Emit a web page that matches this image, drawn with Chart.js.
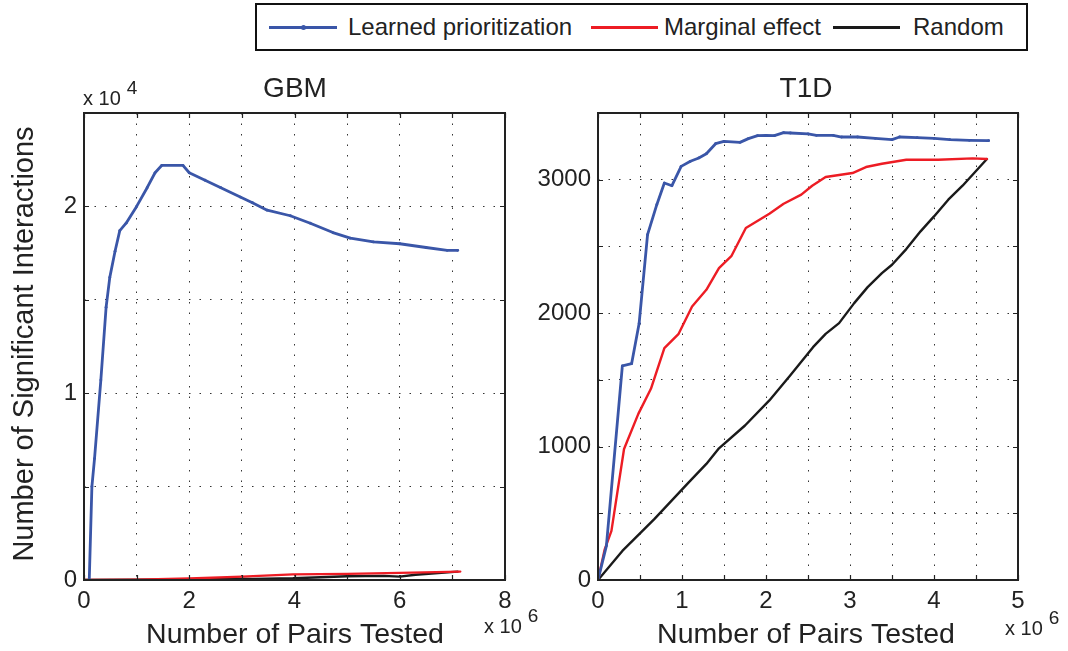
<!DOCTYPE html>
<html>
<head>
<meta charset="utf-8">
<script src="https://cdn.jsdelivr.net/npm/chart.js@4"></script>
<style>
  html, body { margin: 0; padding: 0; background: #fff; }
  #wrap { position: relative; width: 1068px; height: 651px; overflow: hidden; font-family: "Liberation Sans", Arial, Helvetica, sans-serif; color: #222; }
  canvas { position: absolute; top: 0; }
  #gbm { left: 0; }
  #t1d { left: 530px; }
  #legend { position: absolute; left: 255px; top: 3px; width: 773px; height: 48px; box-sizing: border-box; border: 2px solid #111; background: #fff; }
  #legend .ln { position: absolute; top: 21px; height: 2.5px; }
  #legend .tx { position: absolute; top: 8px; font-size: 24px; line-height: 27px; white-space: nowrap; }
  #legend .dot { position: absolute; top: 20px; width: 5px; height: 5px; border-radius: 50%; background: #3a56a8; }
</style>
</head>
<body>
<div id="wrap">
  <canvas id="gbm" width="548" height="651"></canvas>
  <canvas id="t1d" width="538" height="651"></canvas>
  <div id="legend">
    <div class="ln" style="left:12px;width:68px;background:#3a56a8;height:3px;top:21px"></div>
    <div class="dot" style="left:44px"></div>
    <div class="tx" style="left:91px">Learned prioritization</div>
    <div class="ln" style="left:334px;width:67px;background:#ed1c24"></div>
    <div class="tx" style="left:407px">Marginal effect</div>
    <div class="ln" style="left:576px;width:67px;background:#1a1a1a"></div>
    <div class="tx" style="left:656px">Random</div>
  </div>
</div>
<script>
// GBM panel: x in 10^6 pairs, y in 10^4 interactions
const gbmLearnedX = [0.1, 0.15, 0.2, 0.32, 0.42, 0.49, 0.59, 0.68, 0.8, 1.0, 1.2, 1.35, 1.48, 1.88, 2.0, 2.3, 2.6, 2.97, 3.2, 3.48, 3.92, 4.3, 4.73, 5.06, 5.5, 6.0, 6.5, 6.9, 7.1];
const gbmLearnedY = [0, 0.5, 0.65, 1.07, 1.46, 1.62, 1.76, 1.87, 1.91, 2.0, 2.1, 2.18, 2.22, 2.22, 2.18, 2.14, 2.1, 2.05, 2.02, 1.98, 1.95, 1.91, 1.86, 1.83, 1.81, 1.8, 1.78, 1.765, 1.765];
const gbmMarginalX = [0, 1, 2, 3, 3.97, 5, 6, 7.15];
const gbmMarginalY = [0, 0.002, 0.008, 0.018, 0.03, 0.033, 0.038, 0.045];
const gbmRandomX = [0, 1, 2, 2.7, 3.2, 3.97, 4.5, 5.0, 5.7, 6.0, 6.3, 7.1];
const gbmRandomY = [0, 0.001, 0.003, 0.008, 0.006, 0.009, 0.015, 0.02, 0.022, 0.018, 0.028, 0.045];

// T1D panel: x in 10^6 pairs, y in interactions
const t1dLearnedX = [0, 0.1, 0.29, 0.4, 0.49, 0.59, 0.7, 0.79, 0.88, 0.99, 1.1, 1.2, 1.29, 1.4, 1.5, 1.69, 1.79, 1.9, 2.0, 2.1, 2.21, 2.29, 2.5, 2.6, 2.8, 2.9, 3.09, 3.3, 3.5, 3.59, 3.8, 4.0, 4.19, 4.42, 4.65];
const t1dLearnedY = [0, 256, 1604, 1621, 1925, 2588, 2813, 2975, 2955, 3100, 3138, 3163, 3195, 3270, 3288, 3280, 3308, 3330, 3333, 3330, 3353, 3350, 3343, 3333, 3333, 3320, 3320, 3310, 3300, 3320, 3315, 3310, 3300, 3295, 3293];
const t1dMarginalX = [0, 0.08, 0.16, 0.31, 0.48, 0.63, 0.79, 0.96, 1.12, 1.29, 1.44, 1.59, 1.76, 2.04, 2.21, 2.42, 2.55, 2.71, 3.03, 3.19, 3.38, 3.67, 4.05, 4.46, 4.63];
const t1dMarginalY = [0, 230, 368, 982, 1245, 1433, 1738, 1845, 2050, 2175, 2338, 2430, 2638, 2745, 2820, 2888, 2955, 3020, 3050, 3095, 3120, 3150, 3150, 3160, 3155];
const t1dRandomX = [0, 0.29, 0.67, 1.08, 1.29, 1.44, 1.75, 2.04, 2.29, 2.56, 2.71, 2.87, 3.05, 3.21, 3.38, 3.5, 3.67, 3.84, 4.0, 4.17, 4.34, 4.63];
const t1dRandomY = [0, 218, 456, 732, 870, 987, 1158, 1346, 1534, 1745, 1845, 1925, 2075, 2195, 2300, 2363, 2480, 2613, 2725, 2850, 2955, 3155];

const FF = '"Liberation Sans", Arial, Helvetica, sans-serif';
const BLUE = '#3a56a8', RED = '#ed1c24', BLACK = '#1a1a1a';

function pts(xs, ys) {
	return xs.map((x, i) => ({ x: x, y: ys[i] }));
}

function datasets(lx, ly, mx, my, rx, ry) {
	return [
		{ data: pts(lx, ly), borderColor: BLUE, backgroundColor: BLUE, borderWidth: 2.8, pointRadius: 1.4, pointBorderWidth: 0 },
		{ data: pts(mx, my), borderColor: RED, borderWidth: 2.4, pointRadius: 0 },
		{ data: pts(rx, ry), borderColor: BLACK, borderWidth: 2.4, pointRadius: 0 }
	];
}

function exponent(ctx, x, y, sup) {
	ctx.textAlign = 'left';
	ctx.font = '20px ' + FF;
	ctx.fillText('x 10', x, y);
	let w = ctx.measureText('x 10').width;
	ctx.font = '19px ' + FF;
	ctx.fillText(sup, x + w + 6, y - 11);
}

// frame, inside ticks and the extra texts MATLAB puts round the axes
function decor(o) {
	return {
		id: 'decor',
		afterDraw(chart) {
			let ctx = chart.ctx, a = chart.chartArea;
			let xs = chart.scales.x, ys = chart.scales.y;
			ctx.save();
			ctx.strokeStyle = '#222';
			ctx.lineWidth = 1.2;
			ctx.beginPath();
			xs.ticks.forEach(t => {
				let p = Math.round(xs.getPixelForValue(t.value)) + 0.5;
				ctx.moveTo(p, a.bottom); ctx.lineTo(p, a.bottom - 5);
				ctx.moveTo(p, a.top); ctx.lineTo(p, a.top + 5);
			});
			ys.ticks.forEach(t => {
				let p = Math.round(ys.getPixelForValue(t.value)) + 0.5;
				ctx.moveTo(a.left, p); ctx.lineTo(a.left + 5, p);
				ctx.moveTo(a.right, p); ctx.lineTo(a.right - 5, p);
			});
			ctx.stroke();
			ctx.lineWidth = 2;
			ctx.strokeRect(a.left, a.top, a.right - a.left, a.bottom - a.top);

			ctx.fillStyle = '#222';
			ctx.textBaseline = 'alphabetic';
			ctx.textAlign = 'center';
			ctx.font = '28px ' + FF;
			ctx.fillText(o.title, o.cx, 97);
			ctx.font = '28.5px ' + FF;
			ctx.fillText('Number of Pairs Tested', o.cx, 643);
			exponent(ctx, o.xExpX, o.xExpY, '6');
			if (o.yExp) exponent(ctx, a.left - 1, 105, o.yExp);
			if (o.ylabel) {
				ctx.save();
				ctx.translate(33, 344);
				ctx.rotate(-Math.PI / 2);
				ctx.textAlign = 'center';
				ctx.font = '29px ' + FF;
				ctx.fillText(o.ylabel, 0, 0);
				ctx.restore();
			}
			ctx.restore();
		}
	};
}

function axes(xmax, xstep, xlab, ymax, ystep, ylab, yw, yfmt) {
	let grid = { color: '#333', lineWidth: 1, drawTicks: false };
	let border = { display: false, dash: [1.5, 9] };
	let font = { family: FF, size: 24 };
	return {
		x: {
			type: 'linear', min: 0, max: xmax, grid: grid, border: border,
			ticks: { stepSize: xstep, autoSkip: false, maxRotation: 0, padding: 7, color: '#222', font: font,
				callback: v => (Math.abs(v / xlab - Math.round(v / xlab)) < 1e-6 ? String(v) : '') },
			afterFit: s => { s.height = 71; }
		},
		y: {
			min: 0, max: ymax, grid: grid, border: border,
			ticks: { stepSize: ystep, autoSkip: false, padding: 7, color: '#222', font: font,
				callback: v => (Math.abs(v / ylab - Math.round(v / ylab)) < 1e-6 ? yfmt(v) : '') },
			afterFit: s => { s.width = yw; }
		}
	};
}

const common = {
	responsive: false,
	animation: false,
	plugins: { legend: { display: false }, tooltip: { enabled: false } },
	elements: { line: { tension: 0, borderJoinStyle: 'round', borderCapStyle: 'round' } }
};

new Chart(document.getElementById('gbm').getContext('2d'), {
	type: 'line',
	data: { datasets: datasets(gbmLearnedX, gbmLearnedY, gbmMarginalX, gbmMarginalY, gbmRandomX, gbmRandomY) },
	options: Object.assign({}, common, {
		layout: { padding: { top: 113, right: 43, left: 0, bottom: 0 } },
		scales: axes(8, 1, 2, 2.5, 0.5, 1, 84, v => String(Math.round(v)))
	}),
	plugins: [decor({ title: 'GBM', cx: 295, xExpX: 484, xExpY: 633, yExp: '4', ylabel: 'Number of Significant Interactions' })]
});

new Chart(document.getElementById('t1d').getContext('2d'), {
	type: 'line',
	data: { datasets: datasets(t1dLearnedX, t1dLearnedY, t1dMarginalX, t1dMarginalY, t1dRandomX, t1dRandomY) },
	options: Object.assign({}, common, {
		layout: { padding: { top: 113, right: 50, left: 0, bottom: 0 } },
		scales: axes(5, 0.5, 1, 3500, 500, 1000, 68, v => String(v))
	}),
	plugins: [decor({ title: 'T1D', cx: 276, xExpX: 475, xExpY: 635 })]
});
</script>
</body>
</html>
